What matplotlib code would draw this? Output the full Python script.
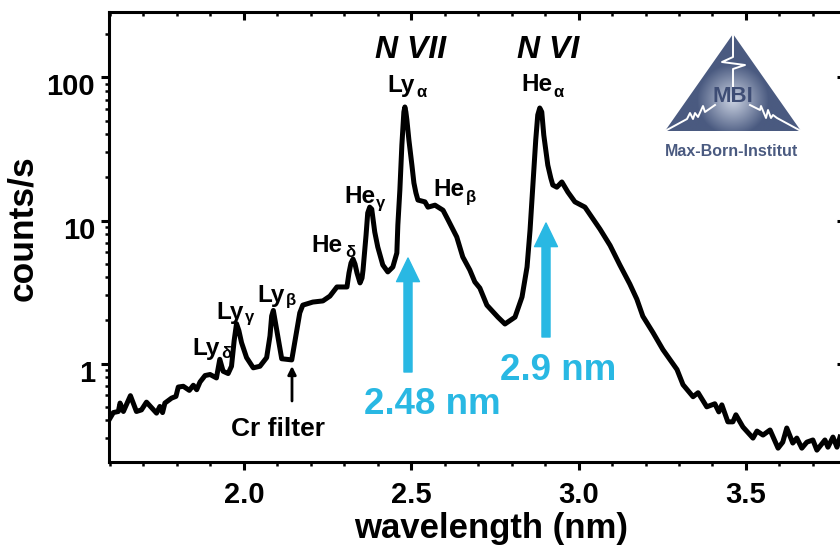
import numpy as np
import matplotlib
matplotlib.use('Agg')
import matplotlib.pyplot as plt
from matplotlib.patches import Polygon
from matplotlib.ticker import LogLocator, MultipleLocator, NullFormatter, FixedFormatter, FixedLocator
from matplotlib.transforms import ScaledTranslation

plt.rcParams['font.family'] = ['Liberation Sans', 'DejaVu Sans']
plt.rcParams['font.weight'] = 'bold'

# spectrum
wavelength = [1.597, 1.610, 1.625, 1.630, 1.640, 1.661, 1.679, 1.694, 1.709, 1.739, 1.749, 1.757,
              1.764, 1.784, 1.797, 1.804, 1.819, 1.837, 1.849, 1.859, 1.869, 1.884, 1.899, 1.918,
              1.928, 1.938, 1.953, 1.963, 1.971, 1.978, 1.985, 1.993, 2.008, 2.028, 2.048, 2.068, 2.078, 2.083,
              2.088, 2.096, 2.113, 2.143, 2.157, 2.167, 2.176, 2.206, 2.236, 2.257, 2.278, 2.308,
              2.314, 2.320, 2.326, 2.332, 2.338, 2.347, 2.353, 2.356, 2.365, 2.370, 2.376, 2.382,
              2.385, 2.391, 2.400, 2.415, 2.430, 2.445, 2.457, 2.460, 2.466, 2.472, 2.478, 2.481, 2.484,
              2.487, 2.493, 2.502, 2.508, 2.514, 2.520, 2.541, 2.550, 2.571, 2.595, 2.610, 2.636,
              2.654, 2.675, 2.690, 2.705, 2.726, 2.759, 2.780, 2.810, 2.831, 2.846, 2.855, 2.863,
              2.872, 2.878, 2.884, 2.890, 2.896, 2.902, 2.908, 2.917, 2.923, 2.935, 2.950, 2.968,
              2.989, 3.019, 3.040, 3.064, 3.094, 3.123, 3.153, 3.174,
              3.192, 3.222, 3.252, 3.294, 3.312, 3.342, 3.357, 3.383, 3.407, 3.419, 3.428, 3.446,
              3.461, 3.470, 3.491, 3.521, 3.533, 3.551, 3.572, 3.596, 3.610, 3.622, 3.640, 3.652,
              3.667, 3.682, 3.700, 3.712, 3.736, 3.745, 3.760, 3.772, 3.781]
counts = [0.403, 0.454, 0.462, 0.529, 0.462, 0.596, 0.462, 0.474, 0.537, 0.450, 0.501, 0.454,
          0.529, 0.573, 0.589, 0.685, 0.693, 0.649, 0.705, 0.656, 0.743, 0.824, 0.838, 0.793,
          1.07, 0.883, 0.851, 0.957, 1.45, 1.90, 1.70, 1.40, 1.10, 0.933, 0.957, 1.10, 1.56, 2.15,
          2.35, 1.83, 1.08, 1.06, 1.64, 2.26, 2.56, 2.69, 2.74, 2.96, 3.43, 3.43,
          4.30, 5.04, 5.38, 4.96, 4.30, 3.66, 3.96, 4.51, 7.9, 11.3, 12.4, 12.0,
          10.6, 8.3, 6.53, 4.89, 4.37, 4.73, 5.93, 9.3, 16.3, 33.7, 57.4, 62.2, 57.4,
          50.5, 36.6, 24.4, 18.3, 15.6, 13.9, 13.5, 12.4, 12.8, 11.8, 10.1, 7.67,
          5.56, 4.51, 3.72, 3.37, 2.56, 2.11, 1.89, 2.11, 2.92, 4.73, 8.6, 17.1,
          36.6, 54.7, 61.2, 57.4, 39.6, 31.1, 24.4, 19.8, 17.7, 17.1, 18.6, 15.8,
          13.5, 12.4, 10.5, 8.7, 6.7, 4.9, 3.6, 2.82,
          2.14, 1.65, 1.25, 0.908, 0.711, 0.586, 0.625, 0.498, 0.523, 0.459, 0.514, 0.391,
          0.391, 0.438, 0.360, 0.301, 0.337, 0.316, 0.343, 0.256, 0.282, 0.354, 0.278, 0.301,
          0.256, 0.282, 0.292, 0.248, 0.292, 0.260, 0.306, 0.260, 0.306]

x_ticks = [2.0, 2.5, 3.0, 3.5]
x_tick_labels = ['2.0', '2.5', '3.0', '3.5']
y_ticks = [1, 10, 100]
y_tick_labels = ['1', '10', '100']

# line labels: text, subscript, x, baseline, subscript x, subscript baseline (pixels)
line_labels = [
    ('Ly', '\u03b1', 387, 92, 416, 97),
    ('He', '\u03b1', 521, 91, 553, 97),
    ('He', '\u03b3', 344, 203, 376, 208),
    ('He', '\u03b2', 433, 196, 466, 202),
    ('He', '\u03b4', 311, 252, 345, 257),
    ('Ly', '\u03b4', 192, 355, 221, 358),
    ('Ly', '\u03b3', 216, 319, 245, 322),
    ('Ly', '\u03b2', 257, 302, 286, 305),
]

blue = '#29b8e3'
logo_blue = '#4a5a80'

fig = plt.figure(figsize=(8.4, 5.49), dpi=100)
ax = fig.add_axes([109 / 840, 1 - 461.5 / 549, 734 / 840, 449.5 / 549])
ax.plot(wavelength, counts, color='black', lw=3.6, solid_joinstyle='round')
ax.set_yscale('log')
ax.set_xlim(1.597, 3.790)
ax.set_ylim(0.2065, 287)

ax.xaxis.set_major_locator(FixedLocator(x_ticks))
ax.xaxis.set_major_formatter(FixedFormatter(x_tick_labels))
ax.xaxis.set_minor_locator(MultipleLocator(0.1))
ax.yaxis.set_major_locator(FixedLocator(y_ticks))
ax.yaxis.set_major_formatter(FixedFormatter(y_tick_labels))
ax.yaxis.set_minor_locator(LogLocator(base=10, subs=np.arange(2, 10), numticks=12))
ax.yaxis.set_minor_formatter(NullFormatter())

ax.tick_params(axis='both', which='major', length=6, width=2.2, labelsize=21, direction='out')
ax.tick_params(axis='x', which='major', pad=8)
ax.tick_params(axis='y', which='major', pad=4)
ax.tick_params(axis='both', which='minor', length=3, width=1.8, direction='out')
for spine in ax.spines.values():
    spine.set_linewidth(2.2)

# y labels sit a little below their ticks
label_shift = ScaledTranslation(0, -7 / 100, fig.dpi_scale_trans)
for label in ax.get_yticklabels():
    label.set_transform(label.get_transform() + label_shift)

# mirrored ticks on top and right, pointing into the plot
top = ax.secondary_xaxis('top')
top.xaxis.set_major_locator(FixedLocator(x_ticks))
top.xaxis.set_minor_locator(MultipleLocator(0.1))
top.tick_params(which='major', direction='in', length=6, width=2.2, labeltop=False)
top.tick_params(which='minor', direction='in', length=3, width=1.8)
top.spines['top'].set_visible(False)
right = ax.secondary_yaxis('right')
right.yaxis.set_major_locator(FixedLocator(y_ticks))
right.yaxis.set_minor_locator(FixedLocator([]))
right.tick_params(which='major', direction='in', length=4, width=2.2, labelright=False)
right.spines['right'].set_visible(False)

fig.text(491 / 840, 1 - 538 / 549, 'wavelength (nm)', fontsize=25, fontweight='bold',
         ha='center', va='baseline')
fig.text(39 / 840, 1 - 228 / 549, 'counts/s', rotation=90, fontsize=25.5, fontweight='bold',
         ha='right', va='center', rotation_mode='default')

# overlay in pixel coordinates for annotations and logo
ov = fig.add_axes([0, 0, 1, 1], facecolor='none')
ov.axis('off')

ov.text(411, 50, 'N VII', fontsize=23, fontweight='bold', style='italic', ha='center', va='center')
ov.text(548, 50, 'N VI', fontsize=23, fontweight='bold', style='italic', ha='center', va='center')

for main, sub, mx, my, sx, sy in line_labels:
    ov.text(mx, my, main, fontsize=17.5, fontweight='bold', ha='left', va='baseline')
    ov.text(sx, sy, sub, fontsize=12, fontweight='bold', ha='left', va='baseline')

ov.text(278, 436, 'Cr filter', fontsize=19, fontweight='bold', ha='center', va='baseline')
ov.annotate('', xy=(292, 366), xytext=(292, 401),
            arrowprops=dict(arrowstyle='-|>', color='black', lw=2, mutation_scale=12, shrinkA=0, shrinkB=0))

for tip, tail in [((408, 258), 372), ((546, 223), 337)]:
    ov.annotate('', xy=tip, xytext=(tip[0], tail),
                arrowprops=dict(width=5.8, headwidth=16.5, headlength=17, color=blue, shrink=0))
ov.text(432, 405, '2.48 nm', fontsize=26.5, fontweight='bold', color=blue, ha='center', va='center')
ov.text(558, 371, '2.9 nm', fontsize=26.5, fontweight='bold', color=blue, ha='center', va='center')

# logo
gx, gy = np.meshgrid(np.linspace(665, 801, 140), np.linspace(34, 131, 100))
glow = np.clip(1 - np.hypot(gx - 733, gy - 100) / 36, 0, 1)
base = np.array(matplotlib.colors.to_rgb(logo_blue))
light = np.array([0.80, 0.83, 0.89])
rgb = base + (light - base) * glow[..., None]
im = ov.imshow(rgb, extent=(665, 801, 131, 34), interpolation='bilinear', aspect='auto', zorder=1)
tri = Polygon([(733, 34), (665, 131), (801, 131)], closed=True, transform=ov.transData,
              facecolor='none', edgecolor='none')
ov.add_patch(tri)
im.set_clip_path(tri)

zig_v = [(733, 34), (733, 57), (722, 62), (745, 65), (733, 69), (733, 87)]
zig_l = [(665, 131), (687, 119), (690, 113), (693, 119), (695, 113), (698, 117), (703, 106), (705, 112), (715, 105)]
zig_r = [(801, 131), (777, 118), (773, 115), (771, 118), (768, 110), (766, 118), (761, 106), (760, 110), (750, 105)]
for zig in [zig_v, zig_l, zig_r]:
    xs, ys = zip(*zig)
    ov.plot(xs, ys, color='white', lw=1.4, zorder=2)
ov.text(733, 97, 'MBI', fontsize=16, fontweight='bold', color='#3e4d75', ha='center', va='center',
        zorder=3)
ov.text(731, 156, 'Max-Born-Institut', fontsize=11.5, fontweight='bold', color=logo_blue,
        ha='center', va='baseline')

ov.set_xlim(0, 840)
ov.set_ylim(549, 0)

fig.savefig('out.png', dpi=100)
